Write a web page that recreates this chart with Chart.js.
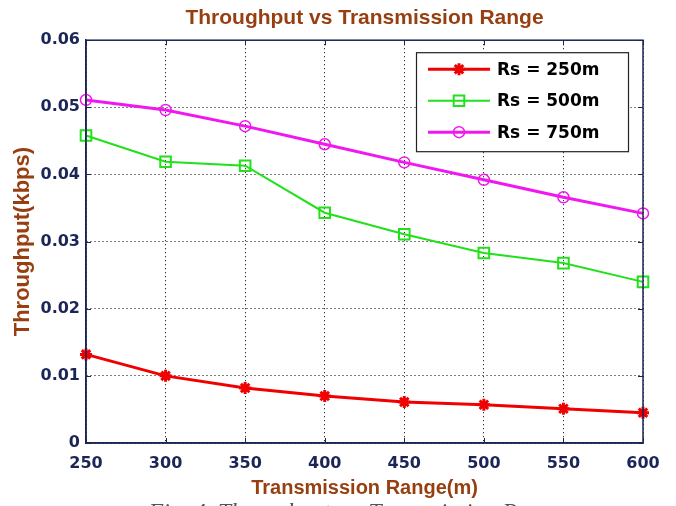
<!DOCTYPE html>
<html><head><meta charset="utf-8">
<script src="https://cdn.jsdelivr.net/npm/chart.js@4.4.1/dist/chart.umd.min.js"></script>
<style>html,body{margin:0;padding:0;background:#fff;overflow:hidden}canvas{display:block}</style>
</head><body>
<canvas id="c" width="676" height="506" style="width:676px;height:506px"></canvas>
<script>
// ---- data ----
const ranges = ['250', '300', '350', '400', '450', '500', '550', '600'];
const rs250 = [0.0132, 0.0100, 0.0082, 0.0070, 0.0061, 0.0057, 0.0051, 0.0045];
const rs500 = [0.0458, 0.0419, 0.0413, 0.0343, 0.0311, 0.0283, 0.0268, 0.0240];
const rs750 = [0.0511, 0.0496, 0.0472, 0.0445, 0.0418, 0.0392, 0.0366, 0.0342];
const seriesLabels = ['Rs = 250m', 'Rs = 500m', 'Rs = 750m'];
const yMin = 0, yMax = 0.06, yStep = 0.01;
const titleText = 'Throughput vs Transmission Range';
const xTitle = 'Transmission Range(m)';
const yTitle = 'Throughput(kbps)';
const captionText = 'Fig. 4. Throughput vs. Transmission Range';

const NAVY = '#1b2556';
const BROWN = '#973f10';

const boxPlugin = {
  id: 'boxPlugin',
  afterDraw(chart) {
    const ctx = chart.ctx, ca = chart.chartArea;
    const xs = chart.scales.x, ys = chart.scales.y;
    ctx.save();
    // inward tick marks
    ctx.strokeStyle = NAVY; ctx.lineWidth = 1;
    ctx.beginPath();
    xs.ticks.forEach((t, i) => {
      const px = Math.round(xs.getPixelForTick(i)) + 0.5;
      ctx.moveTo(px, ca.bottom); ctx.lineTo(px, ca.bottom - 5);
      ctx.moveTo(px, ca.top); ctx.lineTo(px, ca.top + 5);
    });
    ys.ticks.forEach((t, i) => {
      const py = Math.round(ys.getPixelForTick(i)) + 0.5;
      ctx.moveTo(ca.left, py); ctx.lineTo(ca.left + 5, py);
      ctx.moveTo(ca.right, py); ctx.lineTo(ca.right - 5, py);
    });
    ctx.stroke();
    // full axes box
    ctx.lineWidth = 1.5;
    ctx.strokeRect(ca.left, ca.top, ca.right - ca.left, ca.bottom - ca.top);

    // legend box (inside the axes, upper right)
    const lx = ca.left + 330, ly = ca.top + 12, lw = 212, lh = 99;
    ctx.fillStyle = '#fff';
    ctx.fillRect(lx, ly, lw, lh);
    ctx.strokeStyle = '#222'; ctx.lineWidth = 1.2;
    ctx.strokeRect(lx + 0.5, ly + 0.5, lw, lh);
    chart.data.datasets.forEach((ds, i) => {
      const cy = ly + 17 + i * 31.5;
      ctx.strokeStyle = ds.borderColor; ctx.lineWidth = ds.borderWidth;
      ctx.beginPath(); ctx.moveTo(lx + 12, cy); ctx.lineTo(lx + 74, cy); ctx.stroke();
      ctx.fillStyle = ds.pointBackgroundColor || 'transparent';
      ctx.strokeStyle = ds.pointBorderColor;
      ctx.lineWidth = ds.pointBorderWidth;
      Chart.helpers.drawPoint(ctx, {pointStyle: ds.pointStyle, radius: ds.pointRadius, rotation: 0, borderWidth: ds.pointBorderWidth}, lx + 43, cy);
      ctx.fillStyle = '#000';
      ctx.font = 'bold 17px "DejaVu Sans"';
      ctx.textAlign = 'left'; ctx.textBaseline = 'middle';
      ctx.fillText(ds.label, lx + 81, cy + 1);
    });

    // figure caption (cut off at the bottom edge, as in the reference)
    ctx.fillStyle = '#555';
    ctx.font = 'italic 24px "Liberation Serif"';
    ctx.textAlign = 'center'; ctx.textBaseline = 'alphabetic';
    ctx.fillText(captionText, 356, 519);
    ctx.restore();
  }
};

new Chart(document.getElementById('c'), {
  type: 'line',
  data: {
    labels: ranges,
    datasets: [
      { label: seriesLabels[0], data: rs250, borderColor: '#f00000', borderWidth: 3,
        pointStyle: 'star', pointRadius: 6, pointBorderWidth: 3,
        pointBorderColor: '#f00000', pointBackgroundColor: '#f00000', tension: 0 },
      { label: seriesLabels[1], data: rs500, borderColor: '#22e01a', borderWidth: 2,
        pointStyle: 'rect', pointRadius: 7.5, pointBorderWidth: 2,
        pointBorderColor: '#22e01a', pointBackgroundColor: 'rgba(0,0,0,0)', tension: 0 },
      { label: seriesLabels[2], data: rs750, borderColor: '#f018f0', borderWidth: 3,
        pointStyle: 'circle', pointRadius: 5.5, pointBorderWidth: 1.5,
        pointBorderColor: '#f018f0', pointBackgroundColor: 'rgba(0,0,0,0)', tension: 0 }
    ]
  },
  options: {
    responsive: false,
    animation: false,
    devicePixelRatio: 1,
    layout: { padding: { left: 0, right: 33, top: 0, bottom: 0 } },
    plugins: {
      legend: { display: false },
      tooltip: { enabled: false },
      title: {
        display: true, text: titleText, color: BROWN, fullSize: false,
        font: { family: '"Liberation Sans"', size: 21, weight: 'bold', lineHeight: 1.2 },
        padding: { top: 6, bottom: 9 }
      }
    },
    scales: {
      x: {
        type: 'category',
        offset: false,
        grid: { color: '#000', lineWidth: 1, drawTicks: false },
        border: { display: true, color: NAVY, width: 1.5, dash: [1, 3] },
        ticks: { color: NAVY, padding: 11, maxRotation: 0, autoSkip: false,
                 font: { family: '"DejaVu Sans"', size: 16, weight: 'bold' } },
        title: { display: true, text: xTitle, color: BROWN,
                 font: { family: '"Liberation Sans"', size: 20, weight: 'bold', lineHeight: 1.2 },
                 padding: { top: 0, bottom: 6 } },
        afterFit(s) { s.height = 63; }
      },
      y: {
        min: yMin, max: yMax,
        grid: { color: '#000', lineWidth: 1, drawTicks: false },
        border: { display: true, color: NAVY, width: 1.5, dash: [1, 3] },
        ticks: { stepSize: yStep, color: NAVY, padding: 6,
                 font: { family: '"DejaVu Sans"', size: 16, weight: 'bold' },
                 callback: v => (Math.abs(v) < 1e-9 ? '0' : Number(v).toFixed(2)) },
        title: { display: true, text: yTitle, color: BROWN,
                 font: { family: '"Liberation Sans"', size: 22, weight: 'bold', lineHeight: 1.2 },
                 padding: { top: 10, bottom: 0 } },
        afterFit(s) { s.width = 86; }
      }
    }
  },
  plugins: [boxPlugin]
});
</script>
</body></html>
